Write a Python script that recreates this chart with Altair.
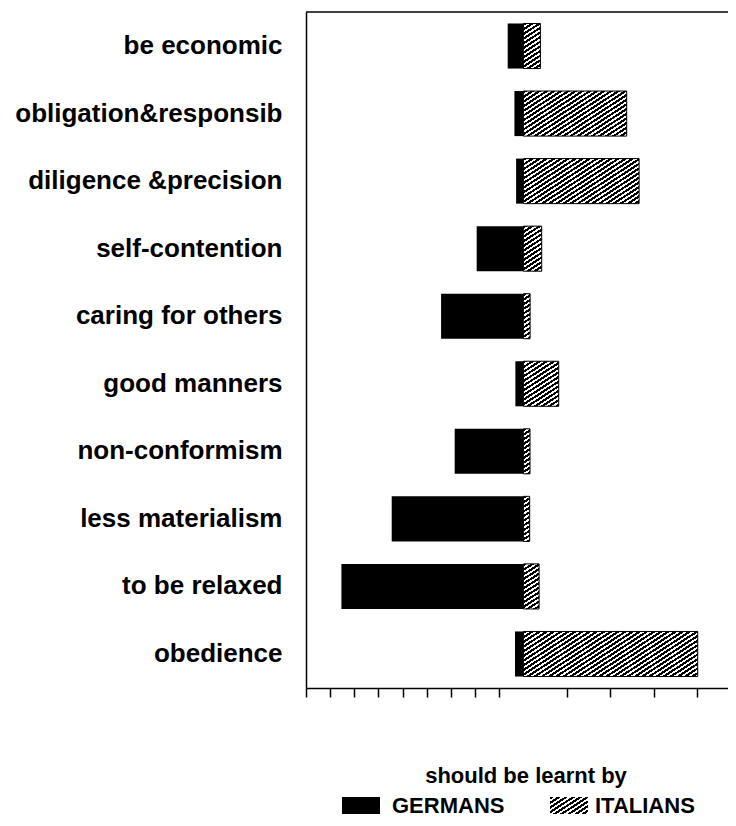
import math
import altair as alt
import pandas as pd

# ---------------- data ----------------
ITEMS = [
    "be economic",
    "obligation&responsib",
    "diligence &precision",
    "self-contention",
    "caring for others",
    "good manners",
    "non-conformism",
    "less materialism",
    "to be relaxed",
    "obedience",
]
GERMANS = [3.25, 1.86, 1.51, 9.67, 17.04, 1.66, 14.22, 27.26, 37.67, 1.74]
ITALIANS = [3.52, 21.38, 23.95, 3.79, 1.39, 7.31, 1.37, 1.30, 3.25, 36.08]
TICKS = [-45, -40, -35, -30, -25, -20, -15, -10, -5, 9, 18, 27, 36]
LEGEND_TITLE = "should be learnt by"
LEGEND_LABELS = ["GERMANS", "ITALIANS"]

# ---------------- layout ----------------
W, H = 422, 676
X_DOMAIN = [-45, 42.35]
PAD_INNER, PAD_OUTER = 0.333, 0.17
FONT = "Liberation Sans"

ppu = W / (X_DOMAIN[1] - X_DOMAIN[0])
step = H / (len(ITEMS) - PAD_INNER + 2 * PAD_OUTER)
bar_h = step * (1 - PAD_INNER)


def hatch(w, h, theta=33.0, period=3.9, black=0.55):
    """Diagonal '/' hatch as a hard-stop linear gradient in bbox units."""
    t = math.radians(theta)
    A = w * math.sin(t) / period
    B = h * math.cos(t) / period
    N = A + B
    lam = N / (A * A + B * B)
    stops = []
    k = 0
    while k <= N:
        a, b = k / N, (k + black) / N
        if a <= 1:
            stops.append(alt.GradientStop(color="white", offset=a))
            stops.append(alt.GradientStop(color="black", offset=a))
        if b <= 1:
            stops.append(alt.GradientStop(color="black", offset=b))
            stops.append(alt.GradientStop(color="white", offset=b))
        k += 1
    return alt.LinearGradient(gradient="linear", stops=stops,
                              x1=0, y1=0, x2=lam * A, y2=lam * B)


df = pd.DataFrame({"item": ITEMS, "ger": GERMANS, "ita": ITALIANS})

x_scale = alt.Scale(domain=X_DOMAIN, nice=False, zero=False)
x_axis = alt.Axis(values=TICKS, labels=False, ticks=True, tickSize=9,
                  tickWidth=1.5, tickColor="black", domain=True,
                  domainColor="black", domainWidth=1.5, grid=False, title=None)
y_enc = alt.Y("item:N", sort=ITEMS,
              scale=alt.Scale(paddingInner=PAD_INNER, paddingOuter=PAD_OUTER),
              axis=alt.Axis(title=None, ticks=False, domain=True,
                            domainColor="black", domainWidth=1.5,
                            labelFont=FONT, labelFontWeight="bold",
                            labelFontSize=26, labelColor="black",
                            labelPadding=24, labelLimit=500))

base = alt.Chart(df).transform_calculate(gstart="-datum.ger", zero="0")

ger_layer = base.mark_bar(color="black").encode(
    x=alt.X("gstart:Q", scale=x_scale, axis=x_axis),
    x2="zero:Q",
    y=y_enc,
)

layers = [ger_layer]
for name, val in zip(ITEMS, ITALIANS):
    layers.append(
        base.transform_filter(alt.datum.item == name)
        .mark_bar(fill=hatch(val * ppu, bar_h), stroke="black", strokeWidth=1)
        .encode(x=alt.X("zero:Q", scale=x_scale, axis=x_axis),
                x2="ita:Q", y=y_enc)
    )

one = pd.DataFrame({"k": [0]})
top_line = alt.Chart(one).mark_rule(color="black", strokeWidth=1.5).encode(
    x=alt.value(0), x2=alt.value(W), y=alt.value(0))

# ---------------- legend ----------------
leg_title = alt.Chart(pd.DataFrame({"t": [LEGEND_TITLE]})).mark_text(
    font=FONT, fontWeight="bold", fontSize=22, color="black",
    align="center", baseline="alphabetic").encode(
    text="t:N", x=alt.value(220), y=alt.value(771))

sw_y, sw_y2 = 785, 802
sw_ger = alt.Chart(one).mark_rect(color="black").encode(
    x=alt.value(36), x2=alt.value(74), y=alt.value(sw_y), y2=alt.value(sw_y2))
sw_ita = alt.Chart(one).mark_rect(fill=hatch(38, sw_y2 - sw_y)).encode(
    x=alt.value(244), x2=alt.value(282), y=alt.value(sw_y), y2=alt.value(sw_y2))

lab_ger = alt.Chart(pd.DataFrame({"t": [LEGEND_LABELS[0]]})).mark_text(
    font=FONT, fontWeight="bold", fontSize=22, color="black",
    align="left", baseline="alphabetic").encode(
    text="t:N", x=alt.value(86), y=alt.value(801))
lab_ita = alt.Chart(pd.DataFrame({"t": [LEGEND_LABELS[1]]})).mark_text(
    font=FONT, fontWeight="bold", fontSize=22, color="black",
    align="left", baseline="alphabetic").encode(
    text="t:N", x=alt.value(289), y=alt.value(801))

chart = alt.layer(*layers, top_line, leg_title, sw_ger, sw_ita, lab_ger, lab_ita).properties(
    width=W, height=H,
    padding={"left": 298, "top": 4, "right": 0, "bottom": 130},
    autosize=alt.AutoSizeParams(type="none"),
    background="white",
).configure_view(stroke=None)

chart.save("out.html", embed_options={"renderer": "svg", "actions": False})
